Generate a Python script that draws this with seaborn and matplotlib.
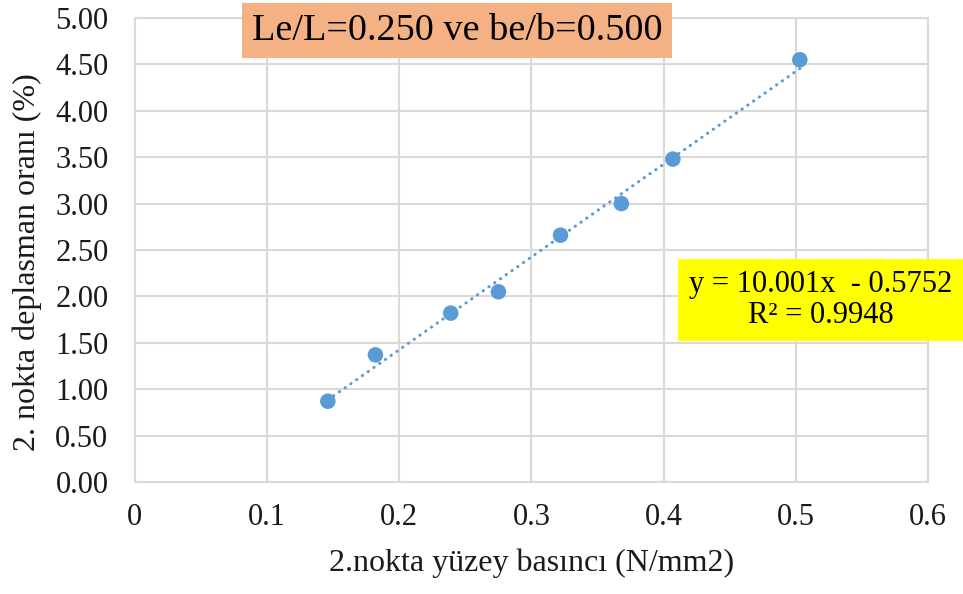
import numpy as np
import pandas as pd
import matplotlib
matplotlib.use('Agg')
import matplotlib.pyplot as plt
import seaborn as sns

# ── Data ──────────────────────────────────────────────────────────────────────
pressure = [0.146, 0.182, 0.239, 0.275, 0.322, 0.368, 0.407, 0.503]
displacement = [0.87, 1.37, 1.82, 2.05, 2.66, 3.00, 3.48, 4.55]
slope, intercept = 10.001, -0.5752
r2 = 0.9948

title_text = 'Le/L=0.250 ve be/b=0.500'
xlabel = '2.nokta yüzey basıncı (N/mm2)'
ylabel = '2. nokta deplasman oranı (%)'
xticks = [0, 0.1, 0.2, 0.3, 0.4, 0.5, 0.6]
xtick_labels = ['0', '0.1', '0.2', '0.3', '0.4', '0.5', '0.6']
yticks = [0, 0.5, 1.0, 1.5, 2.0, 2.5, 3.0, 3.5, 4.0, 4.5, 5.0]

df = pd.DataFrame({'x': pressure, 'y': displacement})

sns.set_style('white')
plt.rcParams['font.family'] = ['Liberation Serif', 'DejaVu Serif']

blue = '#5B9BD5'
grid = '#D9D9D9'
txt = '#1a1a1a'

fig = plt.figure(figsize=(9.63, 5.94), dpi=100)
ax = fig.add_axes([0.140, 0.1886, 0.8237, 0.781])

# trendline (linear, from the fitted equation)
xs = np.array([min(pressure), max(pressure)])
ax.plot(xs, slope * xs + intercept, color=blue, lw=2.2, ls=(0, (0.1, 2.2)),
        dash_capstyle='round', zorder=2)

sns.scatterplot(data=df, x='x', y='y', ax=ax, color=blue, s=125,
                edgecolor='none', zorder=3)

ax.set_xlim(0, 0.6)
ax.set_ylim(0, 5)
ax.set_xticks(xticks)
ax.set_xticklabels(xtick_labels)
ax.set_yticks(yticks)
ax.set_yticklabels([f'{v:.2f}' for v in yticks])
ax.tick_params(length=0, labelsize=22, labelcolor=txt)
ax.tick_params(axis='y', pad=19)
ax.tick_params(axis='x', pad=15)

ax.grid(True, color=grid, lw=1.5)
ax.set_axisbelow(True)
for sp in ax.spines.values():
    sp.set_color(grid)
    sp.set_linewidth(1.5)

ax.set_xlabel(xlabel, fontsize=23, color=txt, labelpad=12)
ax.set_ylabel(ylabel, fontsize=23, color=txt)
ax.yaxis.set_label_coords(-0.117, 0.474)

# title box
fig.text(0.4746, 0.9487, title_text, fontsize=27.5, ha='center', va='center',
         color='#000000',
         bbox=dict(boxstyle='square,pad=0.26', fc='#F4B183', ec='none'))

# equation box
fig.text(0.8526, 0.495, f'y = {slope:.3f}x  - {abs(intercept):.4f}\nR² = {r2:.4f}',
         fontsize=22, ha='center', va='center', linespacing=1.1,
         color='#000000', multialignment='center',
         bbox=dict(boxstyle='square,pad=0.36', fc='#FFFF00', ec='none'))

fig.savefig('out.png', dpi=100)
